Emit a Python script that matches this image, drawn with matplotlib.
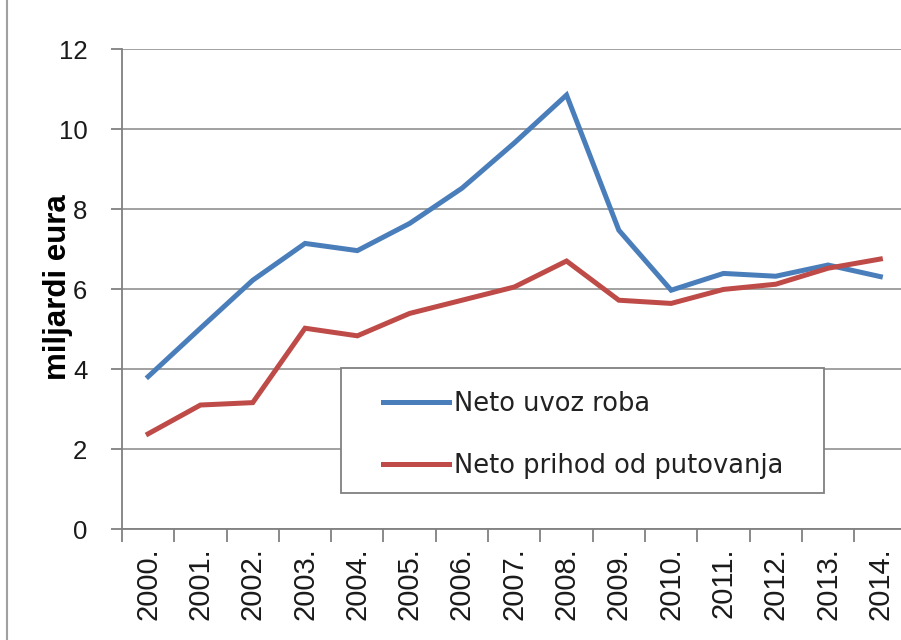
import matplotlib
matplotlib.use("Agg")
import matplotlib.pyplot as plt
from matplotlib.lines import Line2D
from matplotlib.patches import Rectangle

# Podaci (milijardi eura)
godine = ["2000.", "2001.", "2002.", "2003.", "2004.", "2005.", "2006.", "2007.",
          "2008.", "2009.", "2010.", "2011.", "2012.", "2013.", "2014."]
uvoz_roba = [3.81, 5.02, 6.22, 7.14, 6.96, 7.64, 8.52, 9.65,
             10.85, 7.47, 5.97, 6.39, 6.32, 6.60, 6.31]
prihod_putovanja = [2.38, 3.10, 3.16, 5.02, 4.83, 5.39, 5.72, 6.05,
                    6.70, 5.72, 5.64, 5.99, 6.12, 6.52, 6.75]

plava = "#4A7EBB"
crvena = "#BE4B48"

fig = plt.figure(figsize=(9.01, 6.4), dpi=100)
ax = fig.add_axes([0.1354, 0.1734, 0.8707, 0.75])

x = list(range(len(godine)))
ax.plot(x, uvoz_roba, color=plava, lw=3.6, label="Neto uvoz roba",
        solid_joinstyle="miter")
ax.plot(x, prihod_putovanja, color=crvena, lw=3.6, label="Neto prihod od putovanja",
        solid_joinstyle="miter")

ax.set_xlim(-0.5, len(godine) - 0.5)
ax.set_ylim(0, 12)
ax.set_yticks(range(0, 13, 2))
ax.yaxis.grid(True, color="#9a9a9a", lw=1.3)
ax.set_axisbelow(True)

for s in ["top", "right"]:
    ax.spines[s].set_visible(False)
for s in ["left", "bottom"]:
    ax.spines[s].set_color("#808080")
    ax.spines[s].set_linewidth(1.3)

ax.set_xticks(x)
ax.set_xticklabels(godine, rotation=90, fontsize=21, family="Liberation Sans",
                   color="#1a1a1a")
ax.tick_params(axis="x", which="major", length=0, pad=13)
ax.set_xticks([i - 0.5 for i in range(len(godine) + 1)], minor=True)
ax.tick_params(axis="x", which="minor", length=9, width=1.3, color="#808080")
ax.tick_params(axis="y", length=8, width=1.3, color="#808080", pad=17)
for t in ax.get_yticklabels():
    t.set_fontsize(18.5)
    t.set_family("Liberation Sans")
    t.set_color("#1a1a1a")

ax.set_ylabel("miljardi eura", fontsize=22.5, fontweight="bold",
              family="Liberation Sans")
ax.yaxis.set_label_coords(-0.062, 0.504)

# okvir legende
ax.add_patch(Rectangle((0.279, 0.075), 0.616, 0.26, transform=ax.transAxes,
                       facecolor="white", edgecolor="#808080", lw=1.3, zorder=5))
leg = ax.legend(loc="upper left", bbox_to_anchor=(0.333, 0.288),
                fontsize=18.5, frameon=False, handlelength=2.55,
                handletextpad=0.2, borderpad=0, labelspacing=1.4,
                borderaxespad=0)
leg.set_zorder(6)
for t in leg.get_texts():
    t.set_color("#222222")

# okvir lijevo
fig.add_artist(Line2D([0.008, 0.008], [0, 1], transform=fig.transFigure,
                      color="#a0a0a0", lw=1.5))

fig.savefig("out.png", dpi=100)
